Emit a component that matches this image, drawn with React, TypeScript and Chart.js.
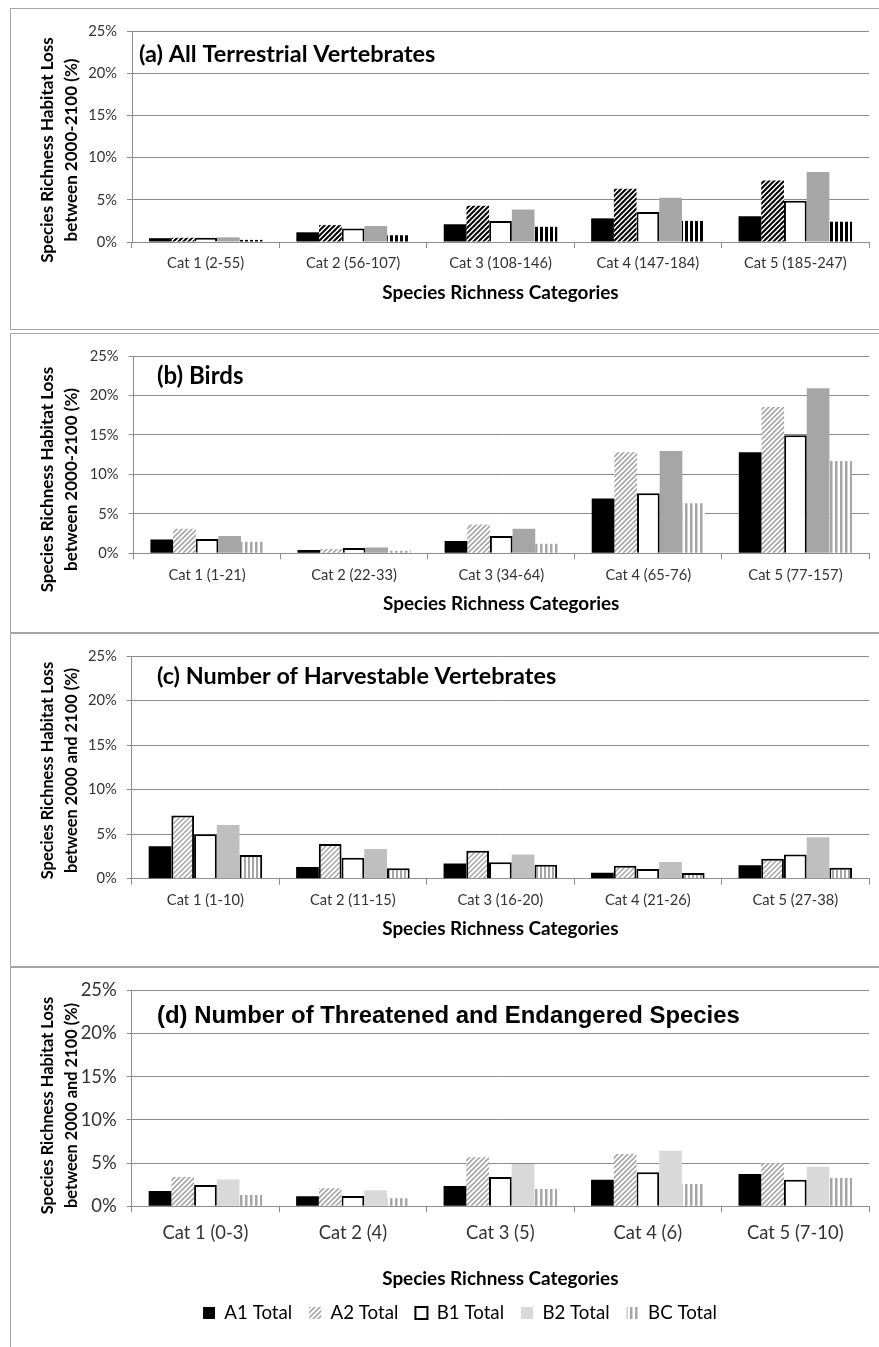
import React, { useEffect, useRef } from 'react';
import { Chart, registerables } from 'chart.js';

Chart.register(...registerables);

const FAMILY = 'Lato';
const ARIAL = '"Liberation Sans"';
const GRID = '#8c8c8c';
const TICK_COLOR = '#333333';
const PAGE_W = 879;

const seriesNames = ['A1 Total', 'A2 Total', 'B1 Total', 'B2 Total', 'BC Total'];
const yTickStep = 5;
const yMax = 25;
const xAxisTitle = 'Species Richness Categories';

// (a) All Terrestrial Vertebrates
const catsA = ['Cat 1 (2-55)', 'Cat 2 (56-107)', 'Cat 3 (108-146)', 'Cat 4 (147-184)', 'Cat 5 (185-247)'];
const a_A1 = [0.45, 1.15, 2.1, 2.8, 3.05];
const a_A2 = [0.5, 2.0, 4.3, 6.3, 7.3];
const a_B1 = [0.5, 1.6, 2.5, 3.55, 4.9];
const a_B2 = [0.55, 1.9, 3.85, 5.25, 8.3];
const a_BC = [0.25, 0.8, 1.8, 2.5, 2.4];

// (b) Birds
const catsB = ['Cat 1 (1-21)', 'Cat 2 (22-33)', 'Cat 3 (34-64)', 'Cat 4 (65-76)', 'Cat 5 (77-157)'];
const b_A1 = [1.75, 0.42, 1.55, 6.95, 12.8];
const b_A2 = [3.1, 0.55, 3.65, 12.8, 18.55];
const b_B1 = [1.8, 0.67, 2.2, 7.6, 14.95];
const b_B2 = [2.2, 0.75, 3.1, 12.95, 20.9];
const b_BC = [1.45, 0.33, 1.2, 6.35, 11.7];

// (c) Number of Harvestable Vertebrates
const catsC = ['Cat 1 (1-10)', 'Cat 2 (11-15)', 'Cat 3 (16-20)', 'Cat 4 (21-26)', 'Cat 5 (27-38)'];
const c_A1 = [3.65, 1.3, 1.72, 0.67, 1.5];
const c_A2 = [7.1, 3.9, 3.15, 1.46, 2.25];
const c_B1 = [4.98, 2.36, 1.84, 1.09, 2.73];
const c_B2 = [6.03, 3.33, 2.73, 1.87, 4.64];
const c_BC = [2.66, 1.16, 1.57, 0.64, 1.24];

// (d) Number of Threatened and Endangered Species
const catsD = ['Cat 1 (0-3)', 'Cat 2 (4)', 'Cat 3 (5)', 'Cat 4 (6)', 'Cat 5 (7-10)'];
const d_A1 = [1.77, 1.16, 2.35, 3.08, 3.74];
const d_A2 = [3.39, 2.08, 5.67, 6.05, 4.98];
const d_B1 = [2.47, 1.19, 3.39, 3.93, 3.08];
const d_B2 = [3.09, 1.85, 4.9, 6.44, 4.59];
const d_BC = [1.31, 0.93, 2.0, 2.58, 3.27];

type Fill = { kind: 'solid' | 'diag' | 'vert' | 'white'; color: string; border?: number; size?: number; lw?: number };

const stylesA: Fill[] = [
  { kind: 'solid', color: '#000000' },
  { kind: 'diag', color: '#000000', size: 5, lw: 2 },
  { kind: 'white', color: '#ffffff', border: 2 },
  { kind: 'solid', color: '#a6a6a6' },
  { kind: 'vert', color: '#000000', size: 5, lw: 3 },
];
const stylesB: Fill[] = [
  { kind: 'solid', color: '#000000' },
  { kind: 'diag', color: '#a6a6a6', size: 5, lw: 1.6 },
  { kind: 'white', color: '#ffffff', border: 2 },
  { kind: 'solid', color: '#a6a6a6' },
  { kind: 'vert', color: '#a6a6a6', size: 5, lw: 2.5 },
];
const stylesC: Fill[] = [
  { kind: 'solid', color: '#000000' },
  { kind: 'diag', color: '#a6a6a6', size: 5, lw: 1.5, border: 2 },
  { kind: 'white', color: '#ffffff', border: 2 },
  { kind: 'solid', color: '#bfbfbf' },
  { kind: 'vert', color: '#a6a6a6', size: 4, lw: 2, border: 2 },
];
const stylesD: Fill[] = [
  { kind: 'solid', color: '#000000' },
  { kind: 'diag', color: '#a6a6a6', size: 5, lw: 1.6 },
  { kind: 'white', color: '#ffffff', border: 2 },
  { kind: 'solid', color: '#d9d9d9' },
  { kind: 'vert', color: '#a6a6a6', size: 5, lw: 2.5 },
];

type PanelDef = {
  key: string; top: number; height: number;
  left: number; areaTop: number; right: number; bottom: number; padLeft: number;
  title: string; titleFamily: string; titleW: number; titleX: number; titleY: number;
  yTitle: string[]; yTitleW: number; yTitleY: number;
  labelOff: number; xTitleOff: number; sampleW: number;
  cats: string[]; values: number[][]; styles: Fill[];
  legend: boolean; legendY?: number; legendGap?: number;
};

const panels: PanelDef[] = [
  {
    key: 'a', top: 0, height: 331, left: 132, areaTop: 31, right: 869, bottom: 242, padLeft: 0,
    title: '(a) All Terrestrial Vertebrates', titleFamily: FAMILY, titleW: 296, titleX: 139, titleY: 54,
    yTitle: ['Species Richness Habitat Loss', 'between 2000-2100 (%)'], yTitleW: 226, yTitleY: 150,
    labelOff: 21, xTitleOff: 51, sampleW: 77,
    cats: catsA, values: [a_A1, a_A2, a_B1, a_B2, a_BC], styles: stylesA, legend: false,
  },
  {
    key: 'b', top: 331, height: 301, left: 133.5, areaTop: 356, right: 869, bottom: 553.3, padLeft: 0,
    title: '(b) Birds', titleFamily: FAMILY, titleW: 86.5, titleX: 157, titleY: 376.7,
    yTitle: ['Species Richness Habitat Loss', 'between 2000-2100 (%)'], yTitleW: 226, yTitleY: 479.5,
    labelOff: 21.7, xTitleOff: 50.7, sampleW: 77,
    cats: catsB, values: [b_A1, b_A2, b_B1, b_B2, b_BC], styles: stylesB, legend: false,
  },
  {
    key: 'c', top: 632, height: 335, left: 131.7, areaTop: 656, right: 869, bottom: 878.7, padLeft: 0,
    title: '(c) Number of Harvestable Vertebrates', titleFamily: FAMILY, titleW: 400, titleX: 157, titleY: 676,
    yTitle: ['Species Richness Habitat Loss', 'between 2000 and 2100 (%)'], yTitleW: 217, yTitleY: 770.5,
    labelOff: 22, xTitleOff: 50.3, sampleW: 77,
    cats: catsC, values: [c_A1, c_A2, c_B1, c_B2, c_BC], styles: stylesC, legend: false,
  },
  {
    key: 'd', top: 967, height: 380, left: 131.7, areaTop: 990.3, right: 869, bottom: 1206.3, padLeft: 51,
    title: '(d) Number of Threatened and Endangered Species', titleFamily: ARIAL, titleW: 582, titleX: 157, titleY: 1016.7,
    yTitle: ['Species Richness Habitat Loss', 'between 2000 and 2100 (%)'], yTitleW: 217, yTitleY: 1105.5,
    labelOff: 26.7, xTitleOff: 72.7, sampleW: 86,
    cats: catsD, values: [d_A1, d_A2, d_B1, d_B2, d_BC], styles: stylesD, legend: true, legendY: 1313, legendGap: 17,
  },
];

let mctx: CanvasRenderingContext2D | null = null;
function fitSize(text: string, weight: string, family: string, target: number) {
  if (!mctx) mctx = document.createElement('canvas').getContext('2d');
  mctx!.font = `${weight} 100px ${family}`;
  const w = mctx!.measureText(text).width;
  return Math.round(((100 * target) / w) * 10) / 10;
}

function makeFill(s: Fill): any {
  if (s.kind === 'solid' || s.kind === 'white') return s.color;
  const size = s.size || 5;
  const lw = s.lw || 2;
  const c = document.createElement('canvas');
  if (s.kind === 'diag') {
    c.width = size; c.height = size;
    const g = c.getContext('2d')!;
    g.fillStyle = '#ffffff';
    g.fillRect(0, 0, size, size);
    g.strokeStyle = s.color;
    g.lineWidth = lw;
    g.beginPath();
    g.moveTo(-size, 2 * size); g.lineTo(2 * size, -size);
    g.moveTo(-size, size); g.lineTo(size, -size);
    g.moveTo(0, 2 * size); g.lineTo(2 * size, 0);
    g.stroke();
    return g.createPattern(c, 'repeat');
  }
  c.width = size; c.height = 4;
  const g = c.getContext('2d')!;
  g.fillStyle = '#ffffff';
  g.fillRect(0, 0, size, 4);
  g.fillStyle = s.color;
  g.fillRect(0, 0, lw, 4);
  return g.createPattern(c, 'repeat');
}

const panelTextPlugin = {
  id: 'panelText',
  afterDraw(chart: any, _args: any, o: any) {
    const ctx = chart.ctx;
    ctx.save();
    ctx.fillStyle = '#000000';
    ctx.textBaseline = 'middle';
    ctx.textAlign = 'left';
    ctx.font = o.titleFont;
    ctx.fillText(o.title, o.titleX, o.titleY);
    ctx.font = o.yTitleFont;
    ctx.textAlign = 'center';
    ctx.translate(o.yTitleX, o.yTitleY);
    ctx.rotate(-Math.PI / 2);
    const lines: string[] = o.lines;
    const n = lines.length;
    for (let i = 0; i < n; i++) {
      ctx.fillText(lines[i], 0, (i - (n - 1) / 2) * o.gap);
    }
    ctx.restore();
  },
};

function PanelChart({ p }: { p: PanelDef }) {
  const ref = useRef<HTMLCanvasElement>(null);
  useEffect(() => {
    const canvas = ref.current!;
    const tickSize = fitSize(p.cats[0], 'normal', FAMILY, p.sampleW);
    const tickLh = tickSize * 1.2;
    const xTitleSize = fitSize(xAxisTitle, 'bold', FAMILY, 236);
    const xLh = xTitleSize * 1.2;
    const tickPad = p.labelOff - 6 - tickLh / 2;
    let xH = p.xTitleOff + xLh / 2;
    let xTitlePadBottom = 0;
    let legendH = 0;
    let legendPad = 10;
    let legendSize = 12;
    if (p.legend) {
      legendSize = fitSize('A1 Total', 'normal', FAMILY, 68);
      const itemH = Math.max(legendSize, 12);
      legendPad = p.legendGap as number;
      const legendTop = (p.legendY as number) - itemH / 2 - legendPad;
      xH = legendTop - p.bottom;
      xTitlePadBottom = xH - p.xTitleOff - xLh / 2;
      legendH = itemH + legendPad + 10;
    }
    const padBottom = p.top + p.height - p.bottom - xH - legendH;
    const titleSize = fitSize(p.title, 'bold', p.titleFamily, p.titleW);
    const yTitleSize = fitSize(p.yTitle[0], 'bold', FAMILY, p.yTitleW);

    const chart = new Chart(canvas, {
      type: 'bar',
      data: {
        labels: p.cats,
        datasets: seriesNames.map((name, i) => {
          const s = p.styles[i];
          return {
            label: name,
            data: p.values[i],
            backgroundColor: makeFill(s),
            borderColor: '#000000',
            borderWidth: s.border || 0,
            categoryPercentage: 0.77,
            barPercentage: 1,
          } as any;
        }),
      },
      options: {
        responsive: false,
        animation: false,
        devicePixelRatio: 1,
        layout: {
          padding: {
            left: p.padLeft,
            top: p.areaTop - p.top,
            right: PAGE_W - p.right,
            bottom: padBottom,
          },
        },
        plugins: {
          tooltip: { enabled: false },
          title: { display: false },
          legend: {
            display: p.legend,
            position: 'bottom',
            labels: {
              boxWidth: 12,
              boxHeight: 12,
              padding: legendPad,
              color: '#000000',
              font: { family: FAMILY, size: legendSize },
            },
          },
          panelText: {
            title: p.title,
            titleFont: `bold ${titleSize}px ${p.titleFamily}`,
            titleX: p.titleX,
            titleY: p.titleY - p.top,
            yTitleFont: `bold ${yTitleSize}px ${FAMILY}`,
            yTitleX: 60,
            yTitleY: p.yTitleY - p.top,
            lines: p.yTitle,
            gap: 24,
          },
        } as any,
        scales: {
          x: {
            type: 'category',
            offset: true,
            grid: {
              display: true,
              offset: true,
              drawOnChartArea: false,
              drawTicks: true,
              tickLength: 6,
              color: GRID,
            },
            border: { display: true, color: GRID },
            ticks: {
              autoSkip: false,
              maxRotation: 0,
              padding: tickPad,
              color: TICK_COLOR,
              font: { family: FAMILY, size: tickSize },
            },
            title: {
              display: true,
              text: xAxisTitle,
              color: '#000000',
              font: { family: FAMILY, size: xTitleSize, weight: 'bold' },
              padding: { top: 0, bottom: xTitlePadBottom },
            },
            afterFit: (s: any) => { s.height = xH; },
          },
          y: {
            min: 0,
            max: yMax,
            grid: { color: GRID, drawTicks: true, tickLength: 5 },
            border: { display: true, color: GRID },
            ticks: {
              stepSize: yTickStep,
              padding: 10,
              color: TICK_COLOR,
              font: { family: FAMILY, size: tickSize },
              callback: (v: any) => `${v}%`,
            },
            afterFit: (s: any) => { s.width = p.left - p.padLeft; },
          },
        },
      } as any,
      plugins: [panelTextPlugin as any],
    });
    return () => chart.destroy();
  }, [p]);

  return (
    <canvas
      ref={ref}
      width={PAGE_W}
      height={p.height}
      style={{ position: 'absolute', left: 0, top: p.top, width: PAGE_W, height: p.height, display: 'block' }}
    />
  );
}

const FRAME = '#a6a6a6';
const frameLines = [
  { x: 10, y: 8, w: 869, h: 1 },
  { x: 10, y: 329, w: 869, h: 1 },
  { x: 10, y: 8, w: 1, h: 322 },
  { x: 10, y: 333, w: 869, h: 1 },
  { x: 10, y: 333, w: 1, h: 1014 },
  { x: 10, y: 632, w: 869, h: 2 },
  { x: 10, y: 966, w: 869, h: 2 },
];

export default function App() {
  return (
    <div style={{ position: 'absolute', left: 0, top: 0, width: PAGE_W, height: 1347, overflow: 'hidden', background: '#ffffff' }}>
      {panels.map((p) => (
        <PanelChart key={p.key} p={p} />
      ))}
      {frameLines.map((l, i) => (
        <div key={i} style={{ position: 'absolute', left: l.x, top: l.y, width: l.w, height: l.h, background: FRAME }} />
      ))}
    </div>
  );
}
